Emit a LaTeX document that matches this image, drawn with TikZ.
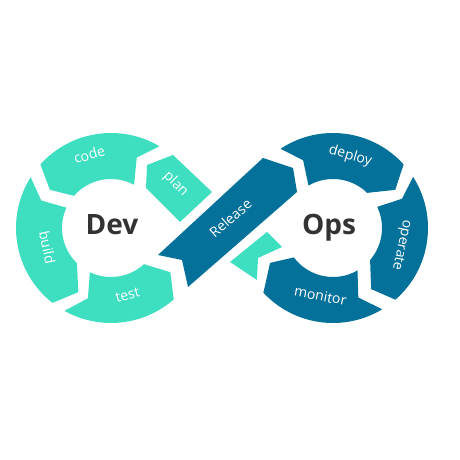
\documentclass[tikz,border=0pt]{standalone}
\usepackage{fontspec}
\setmainfont{Open Sans}
\usetikzlibrary{calc}
\definecolor{dvteal}{HTML}{3EDEC1}
\definecolor{dvblue}{HTML}{04719A}
\definecolor{dvdark}{HTML}{333333}
\tikzset{
  devseg/.style={fill=dvteal},
  opsseg/.style={fill=dvblue},
  seglabel/.style={text=white, font=\fontsize{14}{14}\selectfont, inner sep=0pt,
    text height=0.54em, text depth=0pt},
  hubtext/.style={text=dvdark, font=\bfseries\fontsize{28}{28}\selectfont, anchor=base, inner sep=0pt},
}

\begin{document}
\begin{tikzpicture}[x=1pt, y=1pt]
  \useasboundingbox[fill=white] (0,0) rectangle (460,460);

  % Dev ring
  \begin{scope}[shift={(111,232)}]
    \fill[devseg] (59.4:95) -- (69.9:75) -- (61.9:49) arc[start angle=61.9, end angle=139, radius=49]
      -- (148:72) -- (138:95) arc[start angle=138, end angle=59.4, radius=95] -- cycle;
    \fill[devseg] (147.7:95) -- (158.5:75) -- (155.5:49) arc[start angle=155.5, end angle=226, radius=49]
      -- (243:72) -- (232:95) arc[start angle=232, end angle=147.7, radius=95] -- cycle;
    \fill[devseg] (240.7:95) -- (251.8:74) -- (244.5:49) arc[start angle=244.5, end angle=312.4, radius=49]
      -- (323.3:74) -- (311.3:95) arc[start angle=311.3, end angle=240.7, radius=95] -- cycle;
  \end{scope}

  % Ops ring
  \begin{scope}[shift={(333,232)}]
    \fill[opsseg] (123.5:95) -- (113.8:74) -- (120:49) arc[start angle=120, end angle=45.8, radius=49]
      -- (31.5:73) -- (42:95) arc[start angle=42, end angle=123.5, radius=95] -- cycle;
    \fill[opsseg] (32.5:95) -- (23:75) -- (25.5:49) arc[start angle=25.5, end angle=-40.8, radius=49]
      -- (-58:72) -- (-49:95) arc[start angle=-49, end angle=32.5, radius=95] -- cycle;
    \fill[opsseg] (-58.8:95) -- (-70:74) -- (-60:49) arc[start angle=-60, end angle=-143.1, radius=49]
      -- (-151:72) -- (-137.1:95) arc[start angle=-137.1, end angle=-58.8, radius=95] -- cycle;
  \end{scope}

  % crossing pieces
  \fill[devseg] (146,272) -- (147,295) -- (173,305) -- (212,268) -- (180,238) -- cycle;
  \fill[devseg] (230,198) -- (267,228) -- (282,213) -- (258,202) -- (257,180) -- cycle;
  \fill[opsseg] (158,205) -- (182,200) -- (188,173) -- (297,268) -- (293,292) -- (263,302) -- cycle;

  % labels
  \node[hubtext] (dev) at (112,225) {Dev};
  \node[hubtext] (ops) at (329,225) {Ops};
  \node[seglabel, rotate=16] (code) at (90,303) {code};
  \node[seglabel, rotate=-78] (build) at (45,212) {build};
  \node[seglabel, rotate=14] (test) at (128,163) {test};
  \node[seglabel, rotate=-45] (plan) at (175,275) {plan};
  \node[seglabel, rotate=41] (release) at (232,240) {Release};
  \node[seglabel, rotate=-16] (deploy) at (350,303) {deploy};
  \node[seglabel, rotate=-102] (operate) at (401,215) {operate};
  \node[seglabel, rotate=-11] (monitor) at (320,162) {monitor};
\end{tikzpicture}
\end{document}
